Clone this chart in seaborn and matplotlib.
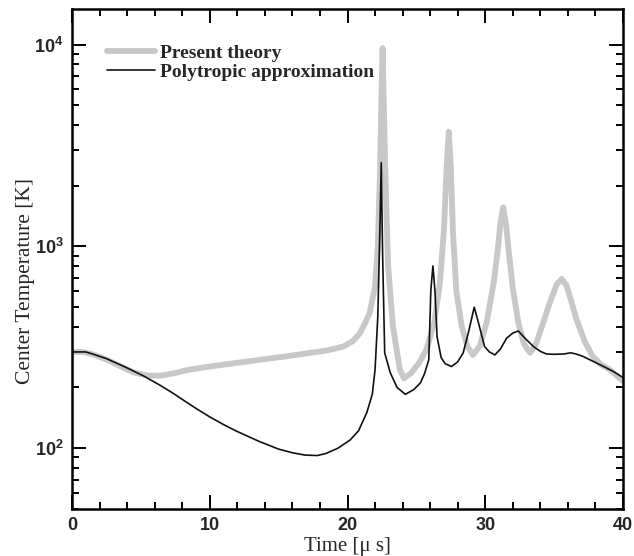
import numpy as np
import pandas as pd
import matplotlib
matplotlib.use("Agg")
import matplotlib.pyplot as plt
import seaborn as sns
from matplotlib.ticker import LogLocator, MultipleLocator, NullFormatter
from matplotlib.lines import Line2D

# ---- data ----
t_present = [0, 0.8, 1.5, 2.5, 3.5, 4.5, 5.5, 6.5, 7.5, 8.5, 10, 12, 13.6, 15.5, 17.3, 18.5,
             19.7, 20.4, 20.9, 21.3, 21.6, 22.0, 22.2, 22.35, 22.45, 22.55, 22.65, 22.8, 22.95,
             23.3, 23.8, 24.1, 24.6, 25.2, 25.75, 26.3, 26.7, 27.0, 27.2, 27.35, 27.5, 27.65,
             27.9, 28.3, 28.7, 29.1, 29.6, 30.1, 30.6, 30.9, 31.1, 31.3, 31.5, 31.7, 32.0,
             32.4, 32.8, 33.25, 33.7, 34.2, 34.7, 35.2, 35.55, 35.9, 36.3, 36.6, 37.2, 37.8,
             38.4, 39.05, 40]
T_present = [300, 300, 292, 275, 255, 237, 229, 229, 236, 245, 254, 265, 274, 285, 297, 305,
             319, 340, 372, 420, 467, 630, 1000, 2200, 5000, 9600, 4500, 1700, 800,
             400, 245, 222, 235, 265, 310, 420, 650, 1200, 2500, 3700, 2500, 1200,
             600, 400, 320, 290, 320, 420, 650, 950, 1300, 1560, 1300, 950, 620,
             420, 330, 297, 330, 417, 530, 650, 690, 640, 520, 440, 340, 285,
             260, 245, 215]

t_poly = [0, 1.0, 1.5, 2.5, 4.0, 5.2, 6.4, 7.3, 8.2, 9.1, 10, 11, 12, 13.6, 15, 16, 16.9,
          17.8, 18.4, 19.3, 20.2, 20.8, 21.4, 21.8, 22.0, 22.2, 22.35, 22.45, 22.55, 22.7,
          23.1, 23.6, 24.2, 24.8, 25.3, 25.6, 25.9, 26.05, 26.2, 26.35, 26.5, 26.8, 27.1,
          27.55, 28.0, 28.4, 28.8, 29.2, 29.5, 29.95, 30.3, 30.7, 31.1, 31.55, 32.0, 32.4,
          32.9, 33.5, 34.0, 34.45, 35.0, 35.7, 36.2, 36.6, 37.1, 37.8, 38.6, 39.3, 40]
T_poly = [300, 300, 293, 278, 250, 228, 205, 188, 171, 156, 143, 131, 121, 108, 99, 95, 92.5,
          92, 94, 100, 110, 122, 150, 185, 245, 450, 1200, 2600, 900, 297,
          237, 200, 185, 195, 211, 235, 274, 607, 800, 600, 357, 281, 262,
          254, 268, 297, 380, 500, 420, 319, 300, 290, 310, 351, 372, 381,
          350, 319, 302, 293, 292, 293, 297, 293, 285, 270, 254, 240, 224]

labels = ["Present theory", "Polytropic approximation"]
x_ticks = [0, 10, 20, 30, 40]

df = pd.concat([
    pd.DataFrame({"t": t_present, "T": T_present, "model": labels[0]}),
    pd.DataFrame({"t": t_poly, "T": T_poly, "model": labels[1]}),
], ignore_index=True)

sns.set_style("ticks")
plt.rcParams["mathtext.fontset"] = "custom"
plt.rcParams["mathtext.rm"] = "Liberation Sans:bold"
plt.rcParams["mathtext.it"] = "Liberation Sans:bold"
plt.rcParams["mathtext.bf"] = "Liberation Sans:bold"

fig = plt.figure(figsize=(6.34, 5.56), dpi=100)
ax = fig.add_axes([72 / 634, 1 - 509 / 556, 551 / 634, 500 / 556])

sns.lineplot(data=df, x="t", y="T", hue="model", hue_order=labels,
             palette={labels[0]: "#c8c8c8", labels[1]: "#111111"},
             ax=ax, estimator=None, sort=False, legend=False)
lines = ax.get_lines()
lines[0].set_linewidth(4.2)
lines[0].set_solid_joinstyle("round")
lines[1].set_linewidth(1.2)

ax.set_yscale("log")
ax.set_xlim(0, 40)
ax.set_ylim(50, 15000)

ax.set_xticks(x_ticks)
ax.xaxis.set_minor_locator(MultipleLocator(2))
ax.yaxis.set_major_locator(LogLocator(base=10, numticks=10))
ax.yaxis.set_minor_locator(LogLocator(base=10, subs=np.arange(2, 10), numticks=10))
ax.yaxis.set_minor_formatter(NullFormatter())

ax.tick_params(which="both", direction="in", top=True, right=True, width=1.4, color="black")
ax.tick_params(which="major", length=10, labelsize=13, pad=6)
ax.tick_params(which="minor", length=5)
for lab in ax.get_xticklabels() + ax.get_yticklabels():
    lab.set_fontfamily("Liberation Sans")
    lab.set_fontweight("bold")

for s in ax.spines.values():
    s.set_linewidth(1.8)
    s.set_color("black")

ax.set_xlabel("Time [μ s]", family="Liberation Serif", fontsize=15)
ax.set_ylabel("Center Temperature [K]", family="Liberation Serif", fontsize=15.5)
ax.xaxis.set_label_coords(0.5, -0.055)
ax.yaxis.set_label_coords(-0.068, 0.456)

handles = [Line2D([], [], color="#c8c8c8", lw=4.2), Line2D([], [], color="#111111", lw=1.2)]
ax.legend(handles, labels, loc="upper left", bbox_to_anchor=(0.063, 0.93),
          frameon=False, borderpad=0, borderaxespad=0, handlelength=2.5,
          handletextpad=0.25, labelspacing=0.1,
          prop={"family": "Liberation Serif", "weight": "bold", "size": 14})

fig.savefig("out.png", dpi=100)
